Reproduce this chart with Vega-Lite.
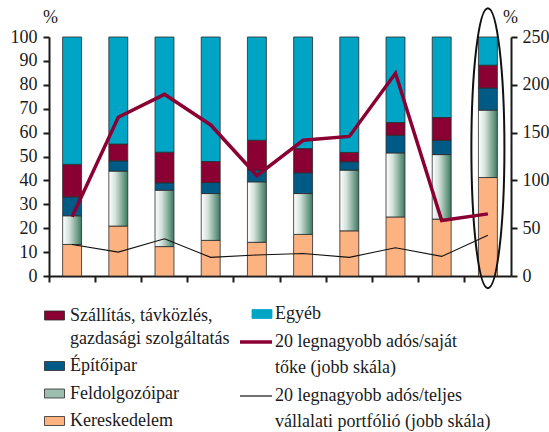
{
  "$schema": "https://vega.github.io/schema/vega-lite/v6.json",
  "width": 462,
  "height": 239,
  "autosize": "none",
  "padding": {"left": 49, "top": 37, "right": 38, "bottom": 156},
  "background": "white",
  "config": {
    "view": {"stroke": null},
    "font": "Liberation Serif"
  },
  "datasets": {
    "bars": [
      {"cat": 1, "series": "Kereskedelem", "value": 13.2},
      {"cat": 1, "series": "Feldolgozóipar", "value": 12.0},
      {"cat": 1, "series": "Építőipar", "value": 7.9},
      {"cat": 1, "series": "Szállítás, távközlés, gazdasági szolgáltatás", "value": 13.6},
      {"cat": 1, "series": "Egyéb", "value": 53.3},
      {"cat": 2, "series": "Kereskedelem", "value": 20.9},
      {"cat": 2, "series": "Feldolgozóipar", "value": 23.0},
      {"cat": 2, "series": "Építőipar", "value": 4.3},
      {"cat": 2, "series": "Szállítás, távközlés, gazdasági szolgáltatás", "value": 7.0},
      {"cat": 2, "series": "Egyéb", "value": 44.8},
      {"cat": 3, "series": "Kereskedelem", "value": 12.3},
      {"cat": 3, "series": "Feldolgozóipar", "value": 23.6},
      {"cat": 3, "series": "Építőipar", "value": 3.1},
      {"cat": 3, "series": "Szállítás, távközlés, gazdasági szolgáltatás", "value": 12.8},
      {"cat": 3, "series": "Egyéb", "value": 48.2},
      {"cat": 4, "series": "Kereskedelem", "value": 14.9},
      {"cat": 4, "series": "Feldolgozóipar", "value": 19.6},
      {"cat": 4, "series": "Építőipar", "value": 4.6},
      {"cat": 4, "series": "Szállítás, távközlés, gazdasági szolgáltatás", "value": 8.8},
      {"cat": 4, "series": "Egyéb", "value": 52.1},
      {"cat": 5, "series": "Kereskedelem", "value": 14.1},
      {"cat": 5, "series": "Feldolgozóipar", "value": 25.3},
      {"cat": 5, "series": "Építőipar", "value": 4.9},
      {"cat": 5, "series": "Szállítás, távközlés, gazdasági szolgáltatás", "value": 12.5},
      {"cat": 5, "series": "Egyéb", "value": 43.2},
      {"cat": 6, "series": "Kereskedelem", "value": 17.4},
      {"cat": 6, "series": "Feldolgozóipar", "value": 17.1},
      {"cat": 6, "series": "Építőipar", "value": 8.7},
      {"cat": 6, "series": "Szállítás, távközlés, gazdasági szolgáltatás", "value": 10.1},
      {"cat": 6, "series": "Egyéb", "value": 46.7},
      {"cat": 7, "series": "Kereskedelem", "value": 18.9},
      {"cat": 7, "series": "Feldolgozóipar", "value": 25.4},
      {"cat": 7, "series": "Építőipar", "value": 3.5},
      {"cat": 7, "series": "Szállítás, távközlés, gazdasági szolgáltatás", "value": 3.9},
      {"cat": 7, "series": "Egyéb", "value": 48.3},
      {"cat": 8, "series": "Kereskedelem", "value": 24.7},
      {"cat": 8, "series": "Feldolgozóipar", "value": 26.8},
      {"cat": 8, "series": "Építőipar", "value": 7.4},
      {"cat": 8, "series": "Szállítás, távközlés, gazdasági szolgáltatás", "value": 5.3},
      {"cat": 8, "series": "Egyéb", "value": 35.8},
      {"cat": 9, "series": "Kereskedelem", "value": 23.8},
      {"cat": 9, "series": "Feldolgozóipar", "value": 27.0},
      {"cat": 9, "series": "Építőipar", "value": 6.0},
      {"cat": 9, "series": "Szállítás, távközlés, gazdasági szolgáltatás", "value": 9.5},
      {"cat": 9, "series": "Egyéb", "value": 33.7},
      {"cat": 10, "series": "Kereskedelem", "value": 41.2},
      {"cat": 10, "series": "Feldolgozóipar", "value": 28.2},
      {"cat": 10, "series": "Építőipar", "value": 9.3},
      {"cat": 10, "series": "Szállítás, távközlés, gazdasági szolgáltatás", "value": 9.5},
      {"cat": 10, "series": "Egyéb", "value": 11.8}
    ],
    "lines": [
      {"cat": 1, "series": "20 legnagyobb adós/saját tőke (jobb skála)", "value": 62},
      {"cat": 2, "series": "20 legnagyobb adós/saját tőke (jobb skála)", "value": 166},
      {"cat": 3, "series": "20 legnagyobb adós/saját tőke (jobb skála)", "value": 190},
      {"cat": 4, "series": "20 legnagyobb adós/saját tőke (jobb skála)", "value": 158},
      {"cat": 5, "series": "20 legnagyobb adós/saját tőke (jobb skála)", "value": 105},
      {"cat": 6, "series": "20 legnagyobb adós/saját tőke (jobb skála)", "value": 142},
      {"cat": 7, "series": "20 legnagyobb adós/saját tőke (jobb skála)", "value": 146},
      {"cat": 8, "series": "20 legnagyobb adós/saját tőke (jobb skála)", "value": 212},
      {"cat": 9, "series": "20 legnagyobb adós/saját tőke (jobb skála)", "value": 58},
      {"cat": 10, "series": "20 legnagyobb adós/saját tőke (jobb skála)", "value": 65},
      {"cat": 1, "series": "20 legnagyobb adós/teljes vállalati portfólió (jobb skála)", "value": 33},
      {"cat": 2, "series": "20 legnagyobb adós/teljes vállalati portfólió (jobb skála)", "value": 25},
      {"cat": 3, "series": "20 legnagyobb adós/teljes vállalati portfólió (jobb skála)", "value": 39},
      {"cat": 4, "series": "20 legnagyobb adós/teljes vállalati portfólió (jobb skála)", "value": 19.5},
      {"cat": 5, "series": "20 legnagyobb adós/teljes vállalati portfólió (jobb skála)", "value": 22},
      {"cat": 6, "series": "20 legnagyobb adós/teljes vállalati portfólió (jobb skála)", "value": 23.5},
      {"cat": 7, "series": "20 legnagyobb adós/teljes vállalati portfólió (jobb skála)", "value": 19.5},
      {"cat": 8, "series": "20 legnagyobb adós/teljes vállalati portfólió (jobb skála)", "value": 29.5},
      {"cat": 9, "series": "20 legnagyobb adós/teljes vállalati portfólió (jobb skála)", "value": 20.5},
      {"cat": 10, "series": "20 legnagyobb adós/teljes vállalati portfólió (jobb skála)", "value": 42.5}
    ]
  },
  "encoding": {
    "x": {
      "field": "cat",
      "type": "ordinal",
      "scale": {"paddingInner": 0, "paddingOuter": 0},
      "axis": {
        "title": null,
        "labels": false,
        "ticks": true,
        "bandPosition": 0,
        "tickSize": 6,
        "tickWidth": 2,
        "tickColor": "#1a1a1a",
        "domainColor": "#1a1a1a",
        "domainWidth": 2,
        "grid": false
      }
    }
  },
  "layer": [
    {
      "layer": [
        {
          "data": {"name": "bars"},
          "transform": [
            {"calculate": "indexof(['Kereskedelem','Feldolgozóipar','Építőipar','Szállítás, távközlés, gazdasági szolgáltatás','Egyéb'], datum.series)", "as": "ord"}
          ],
          "mark": {"type": "bar", "width": {"band": 0.41}, "stroke": "#2a2a2a", "strokeWidth": 0.8},
          "encoding": {
            "y": {
              "field": "value",
              "type": "quantitative",
              "stack": "zero",
              "scale": {"domain": [0, 100], "nice": false},
              "axis": {
                "orient": "left",
                "values": [0, 10, 20, 30, 40, 50, 60, 70, 80, 90, 100],
                "labelOverlap": false,
                "grid": false,
                "labelFont": "Liberation Serif",
                "labelFontSize": 18,
                "labelColor": "#1a1a1a",
                "labelPadding": 6,
                "tickSize": 6,
                "tickWidth": 2,
                "tickColor": "#1a1a1a",
                "domainColor": "#1a1a1a",
                "domainWidth": 2,
                "title": "%",
                "titleAngle": 0,
                "titleX": 1,
                "titleY": -20,
                "titleAlign": "center",
                "titleBaseline": "middle",
                "titleFont": "Liberation Serif",
                "titleFontSize": 18,
                "titleFontWeight": "normal",
                "titleColor": "#1a1a1a"
              }
            },
            "order": {"field": "ord", "type": "quantitative"},
            "color": {
              "condition": {
                "test": "datum.series === 'Feldolgozóipar'",
                "value": {
                  "gradient": "linear",
                  "x1": 0, "y1": 0, "x2": 1, "y2": 0,
                  "stops": [
                    {"offset": 0, "color": "#ffffff"},
                    {"offset": 0.35, "color": "#d3e2da"},
                    {"offset": 1, "color": "#3b7a60"}
                  ]
                }
              },
              "field": "series",
              "type": "nominal",
              "scale": {
                "domain": ["Szállítás, távközlés, gazdasági szolgáltatás", "Építőipar", "Feldolgozóipar", "Kereskedelem", "Egyéb"],
                "range": ["#8b0033", "#005a86", "#9dbdae", "#fdb381", "#00a5c6"]
              },
              "legend": {
                "title": null,
                "orient": "none",
                "legendX": -5,
                "legendY": 268,
                "direction": "vertical",
                "values": ["Szállítás, távközlés, gazdasági szolgáltatás", "Építőipar", "Feldolgozóipar", "Kereskedelem"],
                "symbolType": "M-1,-0.45L1,-0.45L1,0.45L-1,0.45Z",
                "symbolSize": 400,
                "symbolStrokeColor": "#2a2a2a",
                "symbolStrokeWidth": 0.8,
                "labelFont": "Liberation Serif",
                "labelFontSize": 18,
                "labelColor": "#1a1a1a",
                "labelLimit": 0,
                "labelOffset": 5,
                "rowPadding": 7.5,
                "padding": 0,
                "labelExpr": "datum.label === 'Szállítás, távközlés, gazdasági szolgáltatás' ? ['Szállítás, távközlés,', 'gazdasági szolgáltatás'] : datum.label",
                "encode": {
                  "labels": {"update": {"lineHeight": {"value": 23.5}}},
                  "symbols": {
                    "update": {
                      "fill": {"signal": "datum.value === 'Feldolgozóipar' ? {gradient: 'linear', x1: 0, y1: 0, x2: 1, y2: 0, stops: [{offset: 0, color: '#ffffff'}, {offset: 0.35, color: '#d3e2da'}, {offset: 1, color: '#3b7a60'}]} : (datum.value === 'Építőipar' ? '#005a86' : (datum.value === 'Kereskedelem' ? '#fdb381' : '#8b0033'))"},
                      "stroke": {"value": "#2a2a2a"},
                      "opacity": {"value": 1}
                    }
                  }
                }
              }
            }
          }
        },
        {
          "data": {"values": [{}]},
          "mark": {
            "type": "point",
            "shape": "M0,-1A0.118,1,0,1,1,0,1A0.118,1,0,1,1,0,-1Z",
            "size": 78400,
            "filled": false,
            "stroke": "#111111",
            "strokeWidth": 2,
            "opacity": 1
          },
          "encoding": {
            "x": {"datum": 10, "type": "ordinal"},
            "y": {
              "datum": 53.5,
              "type": "quantitative",
              "scale": {"domain": [0, 100], "nice": false},
              "axis": {
                "orient": "left",
                "values": [0, 10, 20, 30, 40, 50, 60, 70, 80, 90, 100],
                "labelOverlap": false,
                "grid": false,
                "labelFont": "Liberation Serif",
                "labelFontSize": 18,
                "labelColor": "#1a1a1a",
                "labelPadding": 6,
                "tickSize": 6,
                "tickWidth": 2,
                "tickColor": "#1a1a1a",
                "domainColor": "#1a1a1a",
                "domainWidth": 2,
                "title": "%",
                "titleAngle": 0,
                "titleX": 1,
                "titleY": -20,
                "titleAlign": "center",
                "titleBaseline": "middle",
                "titleFont": "Liberation Serif",
                "titleFontSize": 18,
                "titleFontWeight": "normal",
                "titleColor": "#1a1a1a"
              }
            }
          }
        }
      ]
    },
    {
      "data": {"name": "lines"},
      "mark": {"type": "line", "strokeJoin": "miter"},
      "encoding": {
        "y": {
          "field": "value",
          "type": "quantitative",
          "scale": {"domain": [0, 250], "nice": false},
          "axis": {
            "orient": "right",
            "values": [0, 50, 100, 150, 200, 250],
            "labelOverlap": false,
            "grid": false,
            "labelFont": "Liberation Serif",
            "labelFontSize": 18,
            "labelColor": "#1a1a1a",
            "labelPadding": 5,
            "tickSize": 6,
            "tickWidth": 2,
            "tickColor": "#1a1a1a",
            "domainColor": "#1a1a1a",
            "domainWidth": 2,
            "title": "%",
            "titleAngle": 0,
            "titleX": -1,
            "titleY": -20,
            "titleAlign": "center",
            "titleBaseline": "middle",
            "titleFont": "Liberation Serif",
            "titleFontSize": 18,
            "titleFontWeight": "normal",
            "titleColor": "#1a1a1a"
          }
        },
        "color": {
          "field": "series",
          "type": "nominal",
          "scale": {
            "domain": ["Egyéb", "20 legnagyobb adós/saját tőke (jobb skála)", "20 legnagyobb adós/teljes vállalati portfólió (jobb skála)"],
            "range": ["#00a5c6", "#8b0033", "#111111"]
          },
          "legend": {
            "title": null,
            "orient": "none",
            "legendX": 191,
            "legendY": 268,
            "direction": "vertical",
            "symbolSize": 1024,
            "labelFont": "Liberation Serif",
            "labelFontSize": 18,
            "labelColor": "#1a1a1a",
            "labelLimit": 0,
            "labelOffset": 3,
            "rowPadding": 10,
            "padding": 0,
            "labelExpr": "datum.label === '20 legnagyobb adós/saját tőke (jobb skála)' ? ['20 legnagyobb adós/saját', 'tőke (jobb skála)'] : (datum.label === '20 legnagyobb adós/teljes vállalati portfólió (jobb skála)' ? ['20 legnagyobb adós/teljes', 'vállalati portfólió (jobb skála)'] : datum.label)",
            "encode": {
              "labels": {"update": {"lineHeight": {"value": 25.5}, "x": {"value": 35}}},
              "symbols": {
                "update": {
                  "shape": {"signal": "datum.value === 'Egyéb' ? 'M-0.25,-0.28L1,-0.28L1,0.28L-0.25,0.28Z' : 'stroke'"},
                  "size": {"value": 1024},
                  "x": {"value": 16},
                  "fill": {"signal": "datum.value === 'Egyéb' ? '#00a5c6' : 'transparent'"},
                  "stroke": {"signal": "datum.value === 'Egyéb' ? '#2a2a2a' : (datum.value === '20 legnagyobb adós/saját tőke (jobb skála)' ? '#8b0033' : '#111111')"},
                  "strokeWidth": {"signal": "datum.value === 'Egyéb' ? 0.8 : (datum.value === '20 legnagyobb adós/saját tőke (jobb skála)' ? 3.5 : 1.2)"},
                  "opacity": {"value": 1}
                }
              }
            }
          }
        },
        "strokeWidth": {
          "condition": {"test": "datum.series === '20 legnagyobb adós/saját tőke (jobb skála)'", "value": 3.5},
          "value": 1.1
        }
      }
    }
  ],
  "resolve": {"scale": {"y": "independent", "color": "independent"}}
}
